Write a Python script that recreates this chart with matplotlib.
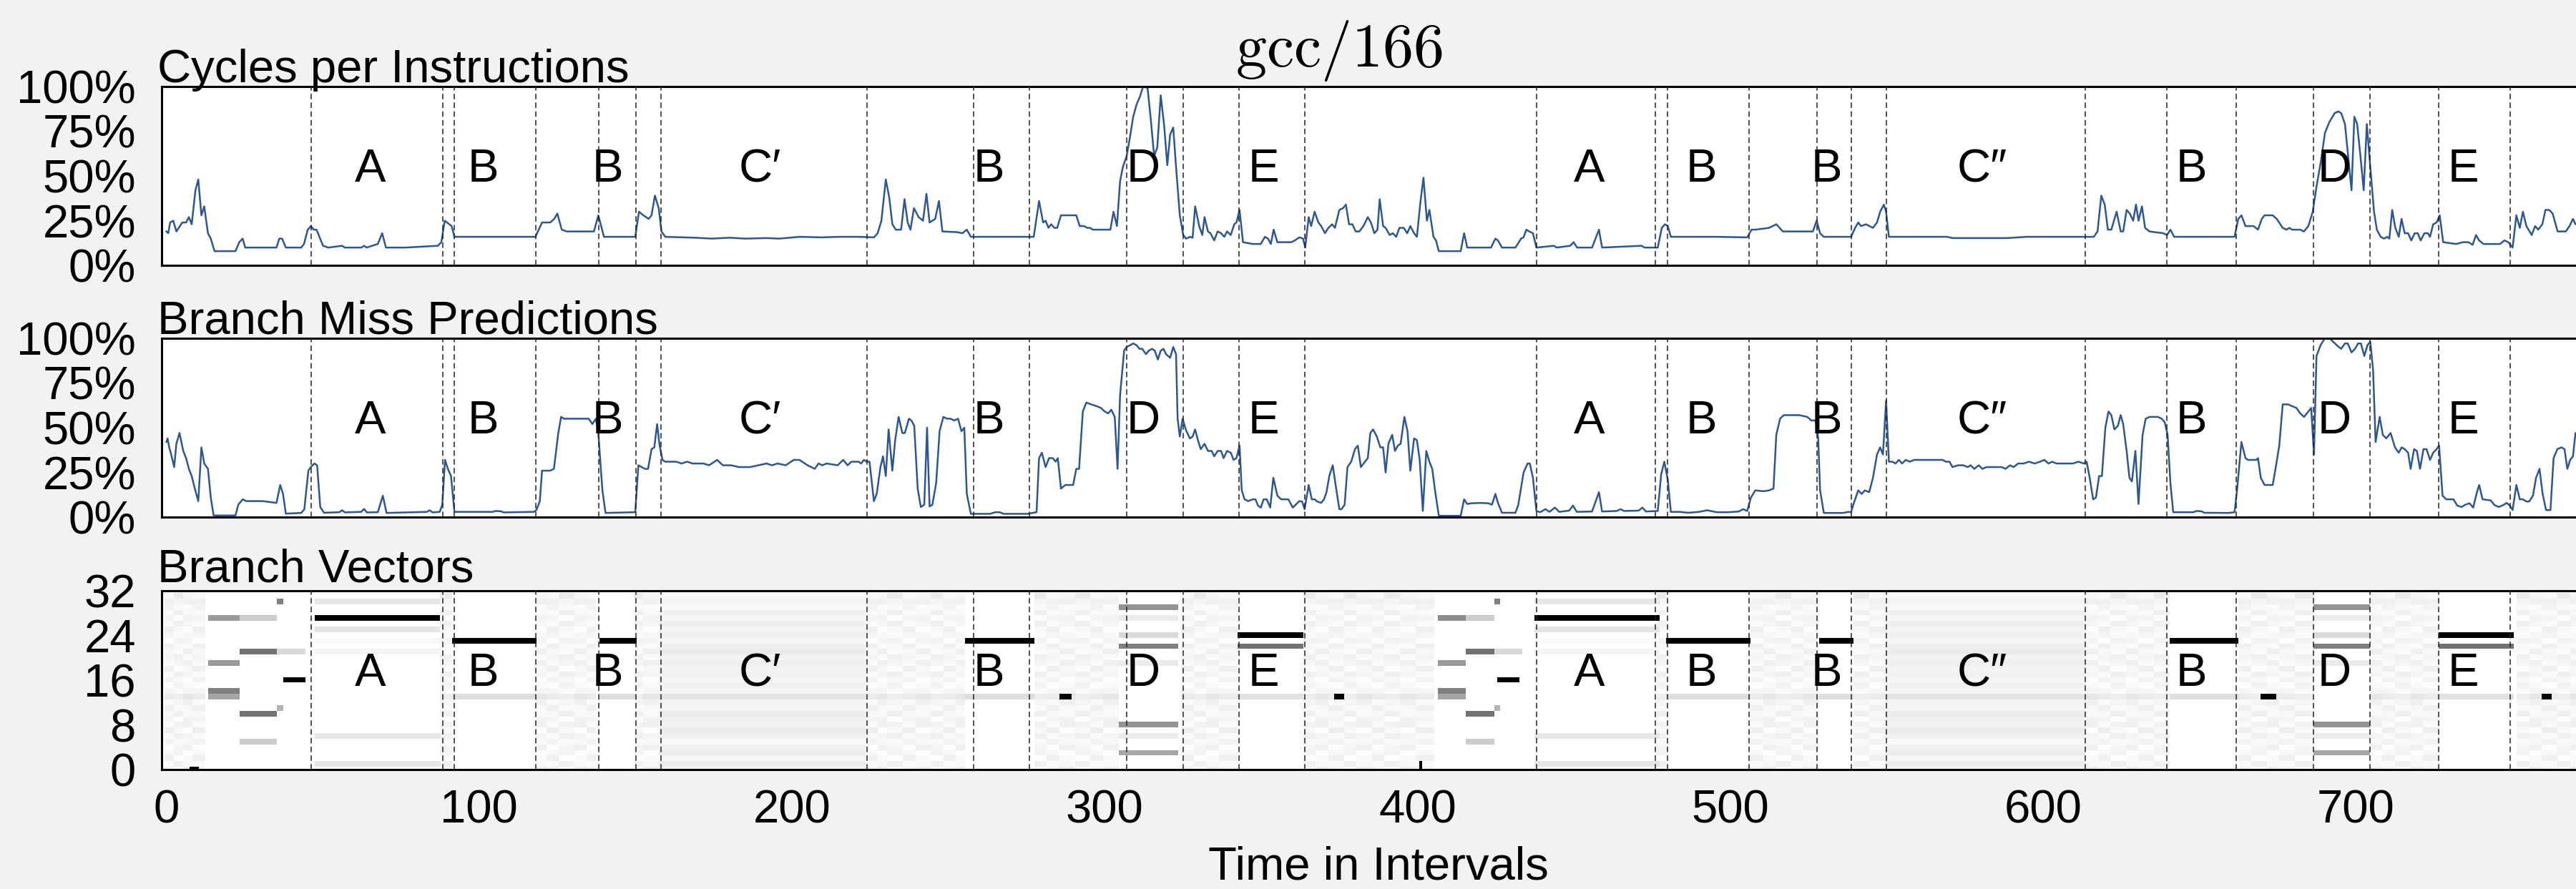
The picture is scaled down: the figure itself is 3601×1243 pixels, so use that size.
import numpy as np
import matplotlib.pyplot as plt
import matplotlib.transforms as mtransforms

plt.rcParams['font.family'] = ['Liberation Sans', 'DejaVu Sans']
plt.rcParams['mathtext.fontset'] = 'cm'

# %% Phase boundaries and labels (interval index)

boundaries = [46.2, 88.3, 92.1, 118.2, 138.2, 150.1, 158.1, 224.1, 258.0, 276.0, 307.0, 325.1, 342.9, 363.9,
              438.0, 476.0, 480.0, 505.9, 527.8, 538.8, 549.8, 613.5, 639.6, 661.7, 686.5, 704.6, 726.5, 749.4]
phase_names = ['A', 'B', 'B', 'C′', 'B', 'D', 'E', 'A', 'B', 'B', 'C″', 'B', 'D', 'E']
phase_pos = [65.1, 101.4, 141.1, 189.8, 262.9, 312.3, 350.9, 454.8, 490.8, 530.8, 580.6, 647.5, 693.0, 734.3]

# %% Cycles per instruction (fraction of max)

cpi_t = [0, 0.6, 1.2, 2.2, 3.2, 5.1, 6.3, 7.2, 8.1, 9.3, 10.2, 11.2, 12.1, 13.3, 14.2, 15.4, 22.1, 23.3, 24.4, 25.2,
         35.2, 36.1, 37.0, 38.2, 43.1, 44.0, 45.2, 46.2, 47.1, 48.0, 50.1, 51.8, 56.2, 57.0, 62.3, 63.2, 64.0, 67.6,
         69.0, 70.2, 76.3, 86.8, 87.9, 89.0, 91.2, 92.1, 104.3, 118.0, 120.1, 122.7, 124.0, 125.0, 126.4, 128.0,
         136.7, 138.1, 139.9, 149.9, 151.1, 152.5, 154.2, 155.1, 156.2, 157.4, 158.3, 159.5, 169.1, 174.4, 180.0,
         185.0, 191.9, 196.0, 202.4, 209.4, 215.0, 221.3,
         226.2, 227.4, 228.6, 230.0, 231.1, 232.1, 233.2, 234.9, 236.0, 237.0, 237.9, 239.0, 240.5, 241.9, 243.0,
         244.0, 245.8, 247.0, 248.1, 252.8, 254.5, 255.9, 257.2, 277.3, 279.0, 280.3, 281.1, 282.0, 282.9, 283.9,
         284.8, 286.0, 287.8, 290.9, 292.0, 293.4, 294.4, 295.3, 296.2, 299.2, 301.8, 302.8, 303.9, 304.9, 305.8,
         307.0, 308.1, 309.1, 310.2, 311.2, 312.3, 313.7, 314.7, 315.8, 316.8, 317.9, 319.0, 320.0, 320.9, 321.9,
         322.8, 324.0, 325.1, 326.0, 327.2, 328.1, 328.9, 330.2, 331.2, 331.9, 333.0, 333.8, 335.0, 336.1, 337.2,
         338.2, 339.1, 340.3, 341.4, 342.1, 343.1, 344.2, 347.3, 349.9, 351.2, 352.2, 353.1, 354.0, 355.2, 359.6,
         360.8, 362.2, 363.4, 364.1, 365.2, 366.0, 367.1, 368.3, 369.2, 370.4, 371.5, 372.7, 373.6, 375.0, 376.2,
         377.1, 378.1, 379.2, 380.2, 381.4, 382.7, 384.1, 385.1, 386.2, 387.2, 387.9, 389.0, 389.8, 391.1, 392.1,
         393.2, 394.2, 395.6, 396.7, 397.7, 398.9, 399.8, 400.9, 401.9, 403.0, 403.8, 405.1, 405.9, 406.8, 413.8,
         414.9, 415.9, 423.5, 424.9, 425.7, 427.0, 431.3, 433.1, 433.9, 434.8, 435.7, 436.9, 438.0, 443.6, 444.5,
         448.8, 449.9, 451.0, 455.8, 458.0, 459.0, 471.6, 472.6, 476.8, 478.1, 479.1, 480.0, 481.0, 495.7,
         505.4, 506.8, 508.0, 512.4, 514.7, 516.8, 526.4, 527.6, 528.7, 529.9, 538.6, 539.9, 540.9, 541.8, 543.4,
         545.6, 546.9, 547.9, 549.1, 549.8, 550.7, 558.8, 569.3, 571.0, 578.0, 588.5, 594.7, 600.8, 604.3, 616.2,
         617.4, 618.6, 619.7, 620.7, 621.8, 623.5, 624.8, 625.6, 626.7, 627.7, 628.8, 629.7, 630.5, 631.6, 632.6,
         634.0, 638.4, 639.6, 640.7, 641.9, 661.2, 662.4, 663.4, 664.7, 667.3, 668.7, 669.9, 670.8, 673.4, 674.7,
         676.6, 677.8, 678.7, 679.6, 682.2, 683.4, 684.8, 686.2, 687.4, 688.8, 690.1, 691.5, 693.2, 694.4, 695.3,
         696.5, 697.4, 698.6, 699.5, 700.4, 701.4, 702.5, 703.5, 704.6, 705.8, 706.7, 707.9, 709.0, 710.0, 710.7,
         711.6, 712.6, 713.7, 714.6, 715.6, 716.7, 717.7, 718.8, 719.8, 720.7, 721.9, 723.0, 723.7, 724.7, 725.8,
         726.8, 727.9, 732.1, 734.2, 736.0, 737.3, 738.4, 739.4, 740.8, 746.1, 747.5, 748.7, 750.1, 751.3, 752.4,
         753.4, 754.5, 756.2, 757.3, 758.3, 759.6, 760.6, 761.8, 762.9, 764.5, 767.1, 768.3, 769.4, 770.2, 772.0,
         774.0, 777.0]
cpi_v = [.19, .18, .24, .25, .19, .24, .24, .27, .23, .42, .48, .28, .33, .18, .15, .08, .08, .13, .15, .10,
         .10, .15, .15, .10, .10, .12, .20, .22, .20, .20, .11, .10, .11, .10, .10, .11, .10, .12,
         .18, .10, .10, .11, .13, .25, .22, .16, .16, .16, .24, .24, .26, .29, .20, .19,
         .19, .28, .16, .16, .30, .28, .26, .28, .39, .32, .19, .16, .155, .15, .155,
         .15, .153, .15, .16, .157, .16, .16,
         .157, .18, .25, .48, .38, .23, .20, .20, .37, .24, .20, .32, .27, .25, .40,
         .24, .26, .36, .19, .186, .18, .20, .16, .16, .36, .24, .25, .21, .23, .21,
         .21, .28, .28, .28, .22, .22, .21, .21, .20, .20, .20, .30, .22, .47, .55,
         .61, .72, .83, .90, .94, 1.0, .99, .82, .61, .66, .95, .78, .56, .73, .77,
         .55, .28, .17, .15, .16, .155, .33, .22, .17, .27, .19, .18, .14, .19, .18,
         .16, .19, .17, .23, .24, .31, .13, .12, .12, .16, .15, .12, .20, .13, .13,
         .14, .157, .15, .10, .27, .22, .30, .24, .22, .18, .21, .23, .21, .31, .32,
         .34, .23, .23, .19, .19, .22, .27, .24, .18, .20, .37, .22, .21, .17, .18,
         .16, .21, .21, .18, .22, .18, .16, .35, .49, .25, .31, .16, .14, .08, .08,
         .18, .10, .10, .15, .14, .10, .10, .15, .157, .20, .19, .18, .10, .11, .10,
         .11, .13, .10, .10, .20, .10, .11, .10, .10, .21, .23, .22, .16, .16,
         .157, .20, .20, .21, .23, .19, .19, .25, .18, .16, .16, .21, .24, .22, .23,
         .21, .24, .30, .34, .30, .16, .16, .16, .153, .153, .153, .16, .16, .16, .16,
         .19, .39, .34, .20, .20, .30, .19, .19, .31, .29, .25, .34, .25, .33, .21,
         .19, .18, .17, .20, .16, .16, .26, .28, .22, .22, .20, .26, .28, .28, .26,
         .21, .20, .21, .20, .20, .19, .22, .30, .44, .58, .74, .80, .85, .86, .85,
         .79, .63, .42, .83, .79, .62, .42, .79, .55, .30, .20, .16, .15, .16, .15,
         .31, .21, .16, .26, .18, .18, .14, .18, .18, .14, .18, .18, .16, .23, .24,
         .28, .13, .12, .13, .13, .115, .17, .14, .12, .12, .14, .13, .10, .28, .21,
         .30, .22, .17, .22, .20, .23, .31, .31, .29, .19, .19, .22, .26, .23, .25,
         .21, .22]

# %% Branch miss predictions (fraction of max)

bmp_t = [0, 0.4, 0.9, 1.4, 2.5, 3.2, 4.2, 5.4, 6.3, 7.2, 8.1, 9.1, 10.2, 11.2, 12.1, 13.3, 14.2, 15.1, 22.1, 23.0,
         24.4, 25.6, 30.8, 35.2, 36.4, 37.3, 38.2, 43.1, 44.1, 45.4, 46.2, 47.3, 48.2, 49.2, 50.4, 55.3, 56.2, 57.1,
         62.3, 63.2, 64.1, 67.6, 69.2, 70.4, 83.3, 84.2, 85.1, 87.4, 88.2, 89.1, 90.0, 91.0, 92.1, 104.3, 105.2,
         107.0, 107.8, 117.5, 118.3, 119.4, 120.1, 122.7, 123.9, 125.3, 126.2, 127.1, 135.0, 136.2, 137.3, 138.1,
         139.4, 140.4, 149.9, 150.9, 153.0, 154.0, 155.1, 156.0, 156.9, 157.7, 158.6, 159.5, 161.2, 163.0, 164.7,
         166.5, 168.2, 170.0, 171.7, 173.5, 176.1, 177.9, 180.5, 183.1, 186.6, 189.2, 191.9, 193.6, 195.4, 198.0,
         200.6, 202.4, 205.0, 207.3, 208.5, 209.7, 211.1, 214.6, 216.4, 217.8, 219.0, 221.3,
         222.1, 223.0, 223.9, 224.8, 226.2, 227.1, 228.3, 229.1, 230.0, 230.9, 232.1, 233.0, 234.1, 235.3, 236.1,
         237.4, 238.2, 239.1, 240.2, 241.2, 242.3, 243.2, 244.0, 244.9, 246.1, 247.2, 248.4, 249.6, 250.7, 251.9,
         253.1, 254.2, 255.1, 255.9, 257.2, 263.3, 265.0, 266.4, 267.7, 275.5, 276.9, 278.2, 279.0, 279.9, 281.1,
         282.2, 283.4, 284.3, 285.0, 286.0, 287.4, 288.7, 289.9, 290.9, 291.8, 293.0, 294.1, 295.7, 297.4, 298.8,
         300.0, 301.1, 302.1, 303.2, 304.1, 304.9, 306.2, 307.0, 308.1, 309.1, 310.2, 311.1, 312.0, 313.2, 314.1,
         315.1, 316.0, 317.0, 317.9, 318.8, 319.6, 320.9, 321.9, 322.8, 323.3, 324.0, 324.9, 325.9, 327.2, 328.1,
         328.9, 329.8, 330.7, 331.9, 333.0, 334.2, 335.0, 336.1, 337.2, 338.0, 339.1, 340.3, 341.2, 342.1, 343.1,
         343.8, 344.7, 345.9, 347.3, 348.2, 349.0, 349.9, 350.8, 351.8, 352.9, 353.9, 355.2, 356.4, 358.7, 360.1,
         361.3, 362.2, 363.1, 363.9, 365.2, 366.2, 367.1, 367.9, 369.2, 370.1, 370.9, 371.8, 372.9, 373.9, 375.0,
         375.7, 376.7, 377.6, 378.8, 380.0, 380.9, 381.9, 383.2, 384.1, 384.9, 385.8, 387.0, 388.1, 389.0, 389.8,
         390.7, 391.9, 392.8, 393.7, 394.6, 395.8, 396.8, 397.7, 398.9, 399.8, 400.7, 401.7, 402.8, 403.8, 404.7,
         405.6, 406.8, 413.8, 414.9, 415.9, 417.3, 420.0, 422.6, 423.8, 424.9, 425.7, 427.0, 431.3, 432.2, 433.9,
         435.2, 435.9, 436.9, 438.0, 439.2, 440.9, 442.2, 443.9, 445.3, 448.5, 449.7, 450.9, 455.8, 458.0, 459.0,
         463.7, 464.9, 466.0, 470.7, 471.9, 473.0, 476.8, 477.9, 478.9, 480.0, 481.0, 483.8, 486.5, 490.0, 492.6,
         495.7,
         499.3, 502.7, 504.1, 505.4, 506.6, 508.0, 510.6, 512.4, 513.8, 514.7, 515.9, 517.1, 519.4, 522.0, 524.6,
         525.9, 527.3, 528.1, 528.7, 529.9, 536.0, 537.8, 538.6, 539.5, 540.9, 542.0, 543.0, 544.4, 545.6, 546.9,
         547.9, 548.8, 549.8, 550.7, 551.8, 552.8, 553.9, 554.9, 556.1, 557.4, 558.8, 560.5, 562.3, 564.9, 566.6,
         567.9, 568.9, 570.1, 571.0, 572.8, 574.5, 575.9, 576.8, 578.0, 579.4, 580.6, 581.9, 583.3, 585.0, 586.8,
         588.0, 589.4, 590.6, 592.0, 593.8, 595.5, 597.3, 599.0, 600.4, 601.7, 602.9, 604.3, 606.0, 607.8, 609.5,
         611.3, 613.0, 613.9, 614.8, 616.0, 616.9, 617.9, 618.8, 619.9, 620.9, 621.8, 622.8, 623.9, 624.8, 625.6,
         626.7, 627.6, 628.4, 629.5, 630.5, 631.8, 632.8, 634.0, 635.3, 636.7, 637.9, 638.9, 639.8, 640.7, 641.6,
         648.0, 649.1, 650.7, 651.5, 659.4, 661.2, 662.0, 663.4, 664.7, 665.5, 668.2, 668.7, 669.6, 670.8, 672.2,
         673.4, 674.3, 675.5, 676.6, 678.3, 679.6, 681.0, 682.2, 683.4, 684.8, 685.7, 686.6, 687.4, 688.7, 690.1,
         691.5, 692.7, 693.9, 695.3, 696.5, 697.4, 698.6, 699.7, 700.7, 701.6, 702.7, 703.7, 704.6, 705.5, 706.3,
         707.6, 708.6, 709.7, 711.1, 712.5, 713.7, 714.6, 715.6, 716.7, 717.5, 718.6, 719.5, 720.5, 721.6, 722.6,
         723.7, 724.7, 725.8, 726.6, 727.7, 728.9, 731.2, 732.4, 733.8, 735.0, 736.3, 737.5, 738.7, 739.4, 740.5,
         743.1, 744.3, 745.7, 747.1, 748.2, 749.2, 750.1, 751.3, 752.4, 753.4, 754.5, 755.4, 756.6, 757.6, 758.7,
         759.7, 760.8, 762.2, 763.2, 764.4, 765.7, 766.7, 767.6, 768.5, 769.4, 770.2, 771.5, 773.5, 775.5, 777.0]
bmp_v = [.42, .44, .39, .36, .28, .41, .47, .37, .33, .27, .23, .16, .09, .39, .30, .27, .11, .01, .01, .07,
         .10, .09, .09, .08, .18, .13, .02, .024, .044, .26, .28, .30, .29, .057, .025, .028, .039, .027,
         .03, .046, .027, .028, .12, .024, .03, .039, .027, .03, .07, .32, .27, .23, .03, .03, .035,
         .033, .027, .03, .04, .09, .26, .26, .27, .47, .56, .55, .55, .52, .55, .47,
         .15, .024, .028, .29, .27, .27, .38, .39, .52, .40, .32, .31, .31, .31, .30,
         .31, .30, .30, .30, .29, .32, .29, .29, .28, .28, .29, .30, .29, .30, .29,
         .32, .32, .29, .27, .30, .29, .30, .29, .32, .29, .31, .31,
         .30, .32, .31, .31, .09, .13, .28, .34, .23, .49, .26, .43, .56, .47, .47,
         .55, .54, .51, .16, .057, .07, .50, .06, .07, .19, .48, .56, .55, .55, .54,
         .55, .48, .50, .13, .019, .019, .028, .028, .019, .019, .024, .028, .33, .36, .28,
         .33, .33, .31, .33, .16, .18, .18, .18, .27, .27, .59, .64, .63, .62, .61,
         .59, .58, .60, .56, .27, .68, .93, .95, .96, .97, .96, .94, .94, .91, .93,
         .94, .93, .88, .93, .94, .91, .89, .95, .91, .55, .45, .55, .49, .44, .45,
         .49, .43, .38, .41, .37, .37, .34, .37, .37, .33, .37, .36, .32, .33, .40,
         .15, .10, .09, .10, .10, .065, .054, .10, .10, .054, .22, .12, .10, .10, .054,
         .074, .09, .088, .045, .18, .10, .10, .088, .08, .10, .14, .23, .29, .17, .045,
         .045, .07, .28, .31, .38, .40, .28, .31, .33, .47, .49, .45, .39, .39, .25,
         .41, .46, .37, .40, .41, .56, .48, .26, .44, .43, .32, .035, .37, .31, .27,
         .15, .008, .008, .10, .074, .078, .08, .078, .07, .13, .08, .025, .025, .068, .25,
         .30, .30, .22, .035, .028, .045, .03, .054, .03, .037, .065, .03, .032, .14, .032,
         .035, .045, .035, .037, .054, .032, .035, .24, .31, .21, .03, .03, .025, .03, .039,
         .028,
         .028, .032, .045, .035, .11, .15, .145, .15, .16, .46, .55, .57, .57, .57, .56,
         .54, .54, .44, .15, .024, .024, .03, .028, .08, .15, .13, .15, .14, .22, .35,
         .39, .35, .65, .31, .31, .30, .32, .30, .32, .31, .32, .32, .32, .32, .32,
         .32, .31, .31, .28, .29, .29, .28, .29, .27, .29, .27, .28, .28, .28, .28,
         .27, .29, .28, .30, .30, .31, .30, .31, .32, .30, .31, .30, .30, .30, .30,
         .31, .30, .31, .23, .10, .11, .23, .23, .50, .59, .57, .49, .51, .57, .52,
         .37, .22, .20, .37, .074, .46, .55, .56, .56, .56, .55, .53, .46, .19, .028,
         .028, .035, .033, .025, .024, .028, .15, .42, .33, .32, .32, .33, .22, .18, .18,
         .18, .27, .40, .63, .63, .62, .61, .58, .56, .59, .61, .35, .90, .96, 1.0,
         1.0, .98, .96, .94, .97, .97, .92, .94, .97, .97, .90, .96, .98, .82, .42,
         .56, .46, .44, .47, .39, .36, .39, .38, .36, .27, .38, .37, .27, .38, .38,
         .32, .36, .38, .40, .12, .10, .10, .065, .057, .07, .078, .054, .14, .18, .10,
         .094, .068, .057, .068, .08, .065, .04, .18, .10, .10, .088, .088, .12, .22, .27,
         .13, .04, .04, .33, .38, .39, .38, .27, .32, .34, .47, .46, .42, .45, .43]

# %% Branch vectors heatmap (32 rows x 778 intervals, darkness 0..1)

n_rows = 32
n_cols = 778
# row darkness, row 0 first, for the striped C phases
c_profile = [0.05, 0.08, 0.04, 0.08, 0.06, 0.02, 0.06, 0.08, 0.05, 0.06, 0.08, 0.04, 0.05, 0.11, 0.04, 0.06,
             0.04, 0.06, 0.05, 0.07, 0.05, 0.08, 0.06, 0.04, 0.06, 0.05, 0.07, 0.04, 0.06, 0.02, 0.04, 0.03]
# row darkness for the grainy transition parts
noise_profiles = [
    [0.05, 0.02, 0.06, 0.03, 0.01, 0.05, 0.02, 0.07, 0.02, 0.04, 0.03, 0.06, 0.02, 0.08, 0.04, 0.01,
     0.05, 0.02, 0.06, 0.02, 0.04, 0.03, 0.06, 0.01, 0.04, 0.06, 0.02, 0.04, 0.02, 0.05, 0.06, 0.03],
    [0.02, 0.06, 0.01, 0.05, 0.04, 0.02, 0.06, 0.03, 0.05, 0.01, 0.06, 0.02, 0.04, 0.07, 0.02, 0.05,
     0.03, 0.06, 0.01, 0.04, 0.06, 0.02, 0.03, 0.05, 0.02, 0.03, 0.06, 0.01, 0.06, 0.02, 0.04, 0.08],
    [0.07, 0.03, 0.02, 0.01, 0.06, 0.03, 0.04, 0.01, 0.06, 0.05, 0.02, 0.03, 0.06, 0.10, 0.04, 0.02,
     0.01, 0.04, 0.03, 0.06, 0.02, 0.06, 0.02, 0.04, 0.03, 0.01, 0.04, 0.05, 0.03, 0.02, 0.06, 0.04],
]
c_spans = [(158, 224), (550, 614)]
noise_spans = [(0, 3, 0), (3, 6, 1), (6, 9, 2), (9, 13, 0), (88, 92, 1),
               (119, 122, 2), (122, 126, 0), (126, 131, 1), (131, 135, 2), (135, 138, 0),
               (150, 153, 1), (153, 158, 2),
               (224, 228, 0), (228, 231, 2), (231, 236, 1), (236, 240, 0), (240, 245, 2), (245, 249, 1),
               (249, 253, 0), (253, 256, 2),
               (278, 282, 1), (282, 286, 0), (286, 291, 2), (291, 296, 1), (296, 300, 0), (300, 305, 2),
               (325, 329, 0), (329, 333, 1), (333, 337, 2), (337, 343, 0),
               (364, 368, 1), (368, 372, 2), (372, 377, 0), (377, 381, 1), (381, 386, 2), (386, 390, 0),
               (390, 395, 1), (395, 400, 2), (400, 406, 0),
               (477, 480, 1),
               (507, 511, 0), (511, 515, 2), (515, 520, 1), (520, 524, 0), (524, 529, 2),
               (540, 545, 1), (545, 550, 0),
               (614, 618, 2), (618, 622, 0), (622, 627, 1), (627, 631, 2), (631, 636, 0), (636, 641, 1),
               (663, 667, 0), (667, 672, 1), (672, 676, 2), (676, 681, 0), (681, 687, 1),
               (705, 709, 2), (709, 713, 0), (713, 718, 1), (718, 722, 2), (722, 727, 0),
               (752, 756, 1), (756, 760, 2), (760, 765, 0), (765, 769, 1), (769, 773, 2), (773, 778, 0)]
# runs of cells: (start, end, row, darkness)
marks = [
    # start of run
    (14, 24, 27, 0.40), (14, 24, 19, 0.40), (14, 24, 14, 0.50), (14, 24, 13, 0.35),
    (24, 36, 27, 0.20), (24, 36, 21, 0.55), (24, 36, 10, 0.55), (24, 36, 5, 0.20),
    (36, 38, 30, 0.50), (36, 38, 11, 0.30), (36, 45, 21, 0.15), (38, 45, 16, 1.0), (8, 11, 0, 1.0),
    # A
    (48, 88, 27, 1.0), (48, 88, 30, 0.10), (48, 88, 25, 0.10), (48, 88, 23, 0.03), (48, 88, 21, 0.04),
    (48, 88, 6, 0.10), (48, 88, 1, 0.10),
    (438, 478, 27, 1.0), (438, 478, 30, 0.10), (438, 478, 25, 0.10), (438, 478, 23, 0.03),
    (438, 478, 21, 0.04), (438, 478, 6, 0.10), (438, 478, 1, 0.10),
    # B
    (92, 119, 23, 1.0), (92, 119, 13, 0.13), (139, 151, 23, 1.0), (139, 151, 13, 0.13),
    (256, 278, 23, 1.0), (256, 278, 13, 0.13), (480, 507, 23, 1.0), (480, 507, 13, 0.13),
    (529, 540, 23, 1.0), (529, 540, 13, 0.13), (641, 663, 23, 1.0), (641, 663, 13, 0.13),
    # D
    (305, 324, 29, 0.42), (305, 324, 27, 0.08), (305, 324, 24, 0.15), (305, 324, 22, 0.50),
    (305, 324, 19, 0.08), (305, 324, 8, 0.42), (305, 324, 6, 0.08), (305, 324, 3, 0.35),
    (687, 705, 29, 0.42), (687, 705, 27, 0.08), (687, 705, 24, 0.15), (687, 705, 22, 0.50),
    (687, 705, 19, 0.08), (687, 705, 8, 0.42), (687, 705, 6, 0.08), (687, 705, 3, 0.35),
    # E
    (343, 364, 24, 1.0), (343, 364, 22, 0.55), (343, 364, 13, 0.12),
    (727, 751, 24, 1.0), (727, 751, 22, 0.55), (727, 751, 13, 0.12),
    # second start-like run before A
    (407, 416, 27, 0.45), (407, 416, 19, 0.40), (407, 416, 14, 0.50), (407, 416, 13, 0.35),
    (416, 425, 27, 0.20), (416, 425, 21, 0.55), (416, 425, 10, 0.55), (416, 425, 5, 0.20),
    (425, 427, 30, 0.50), (425, 427, 11, 0.30), (425, 434, 21, 0.15), (426, 433, 16, 1.0),
    # isolated dots
    (286, 290, 13, 1.0), (374, 377, 13, 1.0), (670, 675, 13, 1.0), (760, 763, 13, 1.0),
    (401, 402, 0, 1.0), (401, 402, 1, 1.0),
]

heat = np.zeros((n_rows, n_cols))
for x0, x1 in c_spans:
    heat[:, x0:x1] = np.array(c_profile)[:, None]
for x0, x1, k in noise_spans:
    heat[:, x0:x1] = np.array(noise_profiles[k])[:, None]
for x0, x1, row, val in marks:
    heat[row, x0:x1] = val

# %% Figure

W, H = 3601, 1243
fig = plt.figure(figsize=(W / 100, H / 100), dpi=100, facecolor='#f2f2f2')

left = 226 / W
width = 3404 / W
tops = [120.7, 472.7, 825.7]
ax_h = 250.5
axes = [fig.add_axes([left, 1 - (t + ax_h) / H, width, ax_h / H]) for t in tops]
titles = ['Cycles per Instructions', 'Branch Miss Predictions', 'Branch Vectors']
title_base = [115, 467, 814]

line_color = '#2b5797'
axes[0].plot(cpi_t, cpi_v, color=line_color, lw=1.8)
axes[1].plot(bmp_t, bmp_v, color=line_color, lw=1.8)
axes[2].imshow(heat, cmap='gray_r', vmin=0, vmax=1, aspect='auto', interpolation='nearest', origin='lower')

for i, ax in enumerate(axes):
    ax.set_facecolor('white')
    ax.set_xlim(-1.5, 777)
    for s in ax.spines.values():
        s.set_linewidth(2.2)
        s.set_color('black')
    ax.tick_params(length=0, labelsize=47)
    ax.tick_params(axis='y', pad=26)
    ax.tick_params(axis='x', pad=20)
    if i < 2:
        ax.set_ylim(0, 1)
        ax.set_yticks([0, 0.25, 0.5, 0.75, 1.0])
        ax.set_yticklabels(['0%', '25%', '50%', '75%', '100%'])
    else:
        ax.set_ylim(0, 32)
        ax.set_yticks([0, 8, 16, 24, 32])
    if i < 2:
        ax.set_xticks([])
    else:
        ax.set_xticks([0, 100, 200, 300, 400, 500, 600, 700])
    for b in boundaries:
        ax.axvline(b, color='#222222', lw=1.1, ls=(0, (5, 3)), zorder=3)
    trans = mtransforms.blended_transform_factory(ax.transData, ax.transAxes)
    for name, pos in zip(phase_names, phase_pos):
        ax.text(pos, 0.535, name, transform=trans, ha='center', va='center', fontsize=47, zorder=4)
    fig.text(220 / W, 1 - title_base[i] / H, titles[i], fontsize=47, ha='left', va='baseline')

fig.text(1872 / W, 1 - 93 / H, r'$\mathrm{gcc}/166$', fontsize=62, ha='center', va='baseline')
fig.text(1927 / W, 1 / H, 'Time in Intervals', fontsize=47, ha='center', va='bottom')

fig.savefig('out.png', dpi=100, facecolor=fig.get_facecolor())
